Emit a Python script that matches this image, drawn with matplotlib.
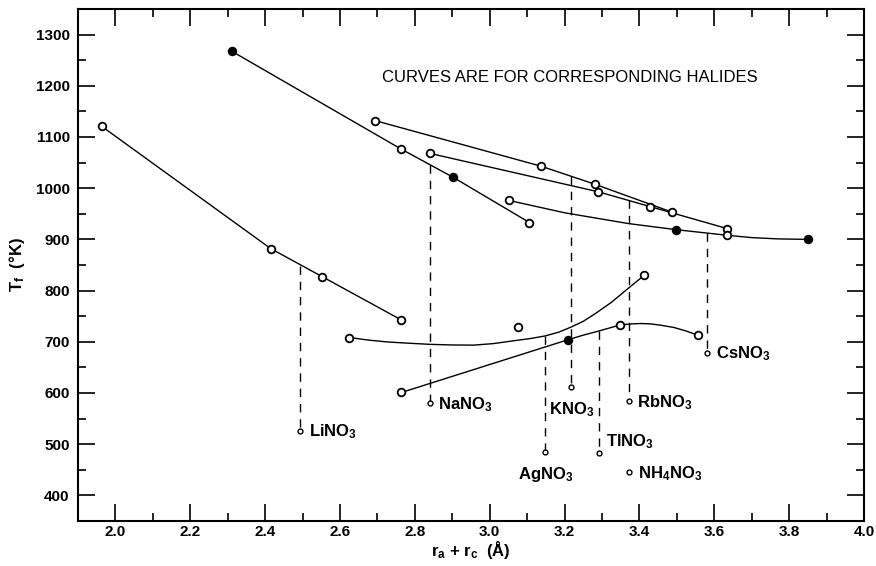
import numpy as np
import matplotlib
matplotlib.use('Agg')
import matplotlib.pyplot as plt
from matplotlib.ticker import MultipleLocator

plt.rcParams['font.family'] = ['Liberation Sans Narrow', 'Liberation Sans', 'DejaVu Sans']
plt.rcParams['font.weight'] = 'bold'
plt.rcParams['mathtext.fontset'] = 'custom'
plt.rcParams['mathtext.rm'] = 'Liberation Sans:bold'
plt.rcParams['mathtext.it'] = 'Liberation Sans:bold'
plt.rcParams['mathtext.bf'] = 'Liberation Sans:bold'
plt.rcParams['mathtext.default'] = 'bf'

# halide points (r_a + r_c, T_f); filled = solid marker
li_x = [1.963, 2.415, 2.553, 2.763]
li_y = [1121, 882, 827, 743]
li_fill = [0, 0, 0, 0]

na_x = [2.312, 2.762, 2.903, 3.106]
na_y = [1267, 1077, 1021, 933]
na_fill = [1, 0, 1, 0]

k_x = [2.694, 3.137, 3.280, 3.488]
k_y = [1132, 1043, 1008, 953]
k_fill = [0, 0, 0, 0]

rb_x = [2.840, 3.290, 3.429, 3.635]
rb_y = [1068, 993, 964, 921]
rb_fill = [0, 0, 0, 0]

cs_x = [3.052, 3.498, 3.635, 3.851]
cs_y = [976, 919, 908, 900]
cs_fill = [0, 1, 0, 1]

ag_x = [2.623, 3.075, 3.413]
ag_y = [708, 728, 830]
ag_fill = [0, 0, 0]

tl_x = [2.764, 3.209, 3.349, 3.556]
tl_y = [601, 704, 733, 713]
tl_fill = [0, 1, 0, 0]

# traced drawn curves (the smooth ones do not pass through every point)
cs_curve_x = [3.052, 3.20, 3.37, 3.498, 3.635, 3.70, 3.77, 3.851]
cs_curve_y = [976, 952, 931, 919, 908, 903.5, 901, 900]
ag_curve_x = [2.623, 2.68, 2.73, 2.79, 2.841, 2.90, 2.957, 3.01, 3.064, 3.11, 3.149,
              3.185, 3.215, 3.25, 3.282, 3.325, 3.367, 3.413]
ag_curve_y = [708.5, 703, 699.5, 697, 695, 693.8, 693.5, 696.5, 702, 706.5, 711.6,
              719, 728, 740, 755, 777, 802.6, 830]
tl_curve_x = [2.764, 3.209, 3.25, 3.291, 3.349, 3.38, 3.403, 3.43, 3.456, 3.492, 3.525, 3.556]
tl_curve_y = [601, 704, 713, 721, 733, 735, 735.7, 735, 732.5, 728, 721, 713]

# nitrates: marker position and top of the dashed drop line
salt_names = ['LiNO$_3$', 'NaNO$_3$', 'KNO$_3$', 'AgNO$_3$', 'TlNO$_3$', 'RbNO$_3$', 'CsNO$_3$', 'NH$_4$NO$_3$']
salt_x = [2.494, 2.840, 3.218, 3.149, 3.291, 3.371, 3.581, 3.373]
salt_y = [526.5, 580.5, 611, 484, 483, 584, 679, 445.5]
salt_top = [848, 1046, 1023, 711, 721, 976, 912, None]

fig = plt.figure(figsize=(8.76, 5.66), dpi=100)
ax = fig.add_axes([78 / 876, 1 - 521 / 566, (864 - 78) / 876, (521 - 9) / 566])

series = [(li_x, li_y, li_fill), (na_x, na_y, na_fill), (k_x, k_y, k_fill),
          (rb_x, rb_y, rb_fill), (cs_x, cs_y, cs_fill), (ag_x, ag_y, ag_fill),
          (tl_x, tl_y, tl_fill)]

# straight-segment curves
for xs, ys in [(li_x, li_y), (na_x, na_y), (k_x, k_y), (rb_x, rb_y)]:
    ax.plot(xs, ys, color='black', lw=1.0, zorder=2)
for xs, ys in [(cs_curve_x, cs_curve_y), (ag_curve_x, ag_curve_y), (tl_curve_x, tl_curve_y)]:
    ax.plot(xs, ys, color='black', lw=1.0, zorder=2)

for xs, ys, fl in series:
    for x, y, f in zip(xs, ys, fl):
        ax.plot(x, y, 'o', ms=5.5, mew=1.3, mec='black',
                mfc='black' if f else 'white', zorder=3)

# drop lines and labels
offsets = {
    'KNO$_3$': ((0, -16), 'center', 'center'),
    'AgNO$_3$': ((0, -16), 'center', 'center'),
    'TlNO$_3$': ((5, 8), 'left', 'center'),
}
for name, x, y, top in zip(salt_names, salt_x, salt_y, salt_top):
    if top is not None:
        ax.plot([x, x], [top, y], color='black', lw=1.0, dashes=(6, 5), zorder=1)
    ax.plot(x, y, 'o', ms=3.5, mew=1.0, mec='black', mfc='white', zorder=3)
    off, ha, va = offsets.get(name, ((6, -1), 'left', 'center'))
    ax.annotate(name, (x, y), xytext=off, textcoords='offset points',
                ha=ha, va=va, fontsize=12, fontweight='bold')

ax.text(2.712, 1217, 'CURVES ARE FOR CORRESPONDING HALIDES', fontsize=12,
        fontweight='normal', va='center', ha='left')

ax.set_xlim(1.9, 4.0)
ax.set_ylim(350, 1350)
ax.xaxis.set_minor_locator(MultipleLocator(0.1))
ax.yaxis.set_minor_locator(MultipleLocator(50))
ax.set_yticks(np.arange(400, 1301, 100))
ax.set_xticks(np.arange(2.0, 4.01, 0.2))
ax.set_xticklabels(['%.1f' % v for v in np.arange(2.0, 4.01, 0.2)])
ax.tick_params(which='both', direction='in', top=True, right=True, labelsize=11, width=1.2)
ax.tick_params(which='major', length=12)
ax.tick_params(axis='x', which='major', pad=3)
ax.tick_params(axis='y', which='major', pad=6)
ax.tick_params(which='minor', length=6)
for lab in ax.get_xticklabels() + ax.get_yticklabels():
    lab.set_fontweight('bold')
for sp in ax.spines.values():
    sp.set_linewidth(1.5)

ax.set_xlabel('r$_a$ + r$_c$  (Å)', fontsize=12, fontweight='bold', labelpad=0)
ax.set_ylabel('T$_f$  (°K)', fontsize=12, fontweight='bold', labelpad=6)

fig.savefig('out.png', dpi=100)
